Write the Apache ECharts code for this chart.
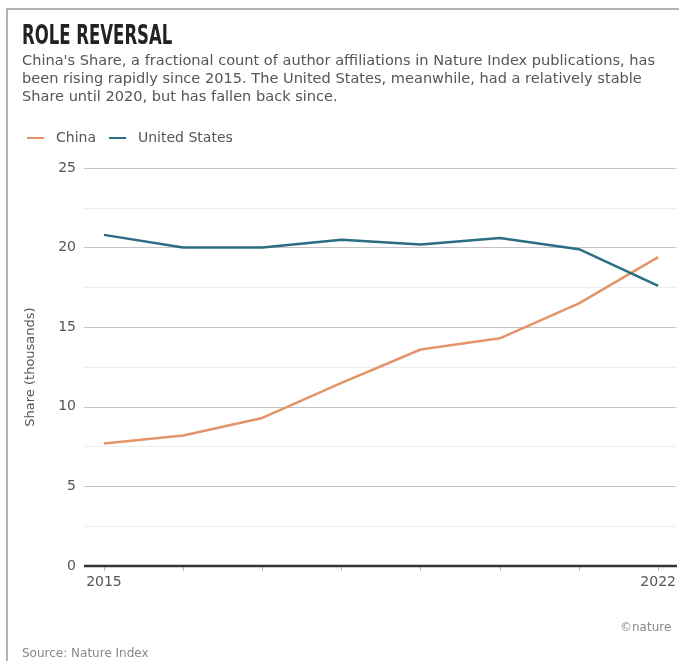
<!DOCTYPE html>
<html>
<head>
<meta charset="utf-8">
<script src="https://cdn.jsdelivr.net/npm/echarts@6/dist/echarts.min.js"></script>
<style>
    html, body {margin: 0; padding: 0; background: #fff;}
    #chartdiv {width: 679px; height: 661px;}
</style>
</head>
<body>
<div id="chartdiv"></div>
<script>
var years = [2015, 2016, 2017, 2018, 2019, 2020, 2021, 2022];
var chinaShare = [7.7, 8.2, 9.3, 11.5, 13.6, 14.3, 16.5, 19.4];
var usShare = [20.8, 20.0, 20.0, 20.5, 20.2, 20.6, 19.9, 17.6];
var yearLabels = [2015, 2022];

function pairs(vals) {
    var out = [];
    for (var i = 0; i < years.length; i++) {
        out.push([years[i], vals[i]]);
    }
    return out;
}

var myChart = echarts.init(document.getElementById("chartdiv"));

var option = {
    animation: false,
    textStyle: {fontFamily: 'DejaVu Sans'},
    legend: {
        left: 22,
        top: 126,
        icon: 'rect',
        itemWidth: 17,
        itemHeight: 2,
        itemGap: 13,
        textStyle: {fontSize: 14, color: '#555', fontFamily: 'DejaVu Sans', padding: [0, 0, 0, 7]},
        data: ['China', 'United States']
    },
    grid: {
        left: 84,   //图表距边框的距离
        right: 2,
        top: 168,
        bottom: 95
    },
    xAxis: {
        type: 'value',
        min: 2014.748,
        max: 2022.227,
        axisLine: {show: false},
        splitLine: {show: false},
        axisTick: {show: true, customValues: years, length: 5, lineStyle: {color: '#bbb'}},
        axisLabel: {customValues: yearLabels, color: '#555', fontSize: 14, margin: 9,
            formatter: function (v) { return String(v); }}
    },
    yAxis: {
        type: 'value',
        min: 0,
        max: 25,
        interval: 2.5,
        name: 'Share (thousands)',
        nameLocation: 'middle',
        nameGap: 47,
        nameTextStyle: {color: '#555', fontSize: 13},
        axisLine: {show: false},
        axisTick: {show: false},
        axisLabel: {
            color: '#555', fontSize: 14, margin: 8,
            formatter: function (v) { return v % 5 === 0 ? String(v) : ''; }
        },
        splitLine: {show: true, lineStyle: {color: ['#c4c4c4', '#ededed'], width: 1}}
    },
    graphic: [
        {type: 'rect', shape: {x: 7, y: 9, width: 720, height: 700}, style: {fill: 'none', stroke: '#9a9a9a', lineWidth: 1.5}, silent: true},
        {type: 'text', x: 22, y: 23, scaleX: 0.68,
            style: {text: 'ROLE REVERSAL', fontFamily: 'DejaVu Sans Condensed', fontWeight: 'bold', fontSize: 27, fill: '#222'}},
        {type: 'text', x: 22, y: 52, scaleX: 1.04,
            style: {text: "China's Share, a fractional count of author affiliations in Nature Index publications, has\nbeen rising rapidly since 2015. The United States, meanwhile, had a relatively stable\nShare until 2020, but has fallen back since.",
                fontFamily: 'DejaVu Sans', fontSize: 14, lineHeight: 18, fill: '#555'}},
        {type: 'line', shape: {x1: 84, y1: 566, x2: 677, y2: 566}, style: {stroke: '#333', lineWidth: 2.5}, z: 10},
        {type: 'text', x: 22, y: 648, style: {text: 'Source: Nature Index', fontSize: 12, fill: '#888', fontFamily: 'DejaVu Sans'}},
        {type: 'text', x: 620, y: 622, style: {text: '©nature', fontSize: 12, fill: '#888', fontFamily: 'DejaVu Sans'}}
    ],
    series: [
        {
            name: 'China',
            type: 'line',
            data: pairs(chinaShare),
            showSymbol: false,
            color: '#e39468',
            lineStyle: {width: 2.5, color: '#e39468'}
        },
        {
            name: 'United States',
            type: 'line',
            data: pairs(usShare),
            showSymbol: false,
            color: '#2b6d82',
            lineStyle: {width: 2.5, color: '#2b6d82'}
        }
    ]
};

myChart.setOption(option);
</script>
</body>
</html>
